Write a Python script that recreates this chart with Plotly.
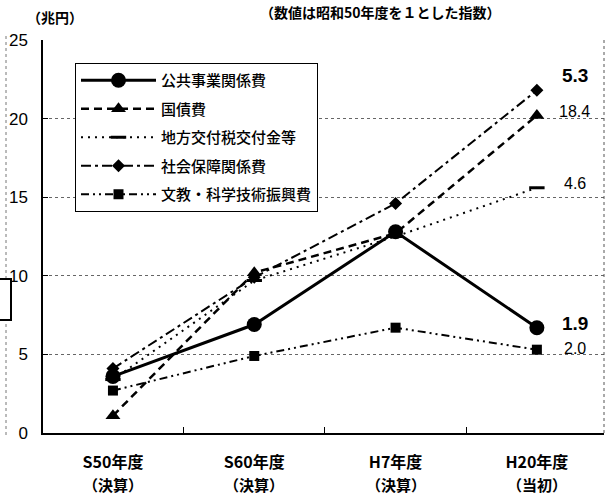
import plotly.graph_objects as go

# Fiscal-year categories (x positions 0..3)
years = ["S50年度", "S60年度", "H7年度", "H20年度"]
budget_kind = ["（決算）", "（決算）", "（決算）", "（当初）"]

# Expenditure by category, trillion yen
public_works = [3.6, 6.9, 12.8, 6.7]      # 公共事業関係費
debt_service = [1.1, 10.2, 12.7, 20.2]    # 国債費
local_tax_grants = [3.4, 9.7, 12.5, 15.6] # 地方交付税交付金等
social_security = [4.1, 9.9, 14.6, 21.8]  # 社会保障関係費
education_science = [2.7, 4.9, 6.7, 5.3]  # 文教・科学技術振興費

# Index for H20 relative to S50 (S50 = 1)
index_labels = ["1.9", "18.4", "4.6", "5.3", "2.0"]

JP = "Noto Sans CJK JP"
NUM = "Liberation Sans Narrow, Liberation Sans, Arial"

series = [
    dict(name="公共事業関係費", y=public_works, dash="solid", width=3,
         marker=dict(symbol="circle", size=15, color="black")),
    dict(name="国債費", y=debt_service, dash="8px,5px", width=2.5,
         marker=dict(symbol="triangle-up", size=13, color="black")),
    dict(name="地方交付税交付金等", y=local_tax_grants, dash="2px,5px", width=2,
         marker=dict(symbol="line-ew", size=11, color="black",
                     line=dict(width=3, color="black"))),
    dict(name="社会保障関係費", y=social_security, dash="10px,4px,3px,4px", width=2,
         marker=dict(symbol="diamond", size=10, color="black")),
    dict(name="文教・科学技術振興費", y=education_science, dash="8px,4px,2px,4px,2px,4px", width=2,
         marker=dict(symbol="square", size=10, color="black")),
]

fig = go.Figure()
for s in series:
    fig.add_trace(go.Scatter(
        x=list(range(len(years))), y=s["y"], name=s["name"],
        mode="lines+markers", legendgroup=s["name"],
        line=dict(color="black", width=s["width"], dash=s["dash"]),
        marker=s["marker"],
    ))

L, R, T, B, W, H = 43, 8, 40, 63, 612, 496
pw, ph = W - L - R, H - T - B


def py(pix):
    """Vertical pixel position (from top of page) to paper coordinate."""
    return (H - B - pix) / ph


# Index labels beside the H20 points
label_style = [
    (public_works, index_labels[0], 19, True, 4),
    (debt_service, index_labels[1], 16, False, 4),
    (local_tax_grants, index_labels[2], 16, False, 4),
    (social_security, index_labels[3], 19, True, 15),
    (education_science, index_labels[4], 16, False, 1),
]
annotations = []
for ys, txt, size, bold, dy in label_style:
    annotations.append(dict(
        x=3, y=ys[-1], xref="x", yref="y", xshift=38, yshift=dy,
        text=f"<b>{txt}</b>" if bold else txt, showarrow=False,
        font=dict(family=NUM, size=size, color="black"),
    ))

# second line of each category label
for i, kind in enumerate(budget_kind):
    annotations.append(dict(
        x=i, y=py(496), xref="x", yref="paper", xanchor="center", yanchor="bottom",
        text=kind, showarrow=False, borderpad=0,
        font=dict(family=JP, size=15, color="black", weight=600),
    ))

annotations += [
    dict(x=(55 - L) / pw, y=py(17), xref="paper", yref="paper", xanchor="center",
         yanchor="middle", text="（兆円）", showarrow=False,
         font=dict(family=JP, size=14, color="black", weight=600)),
    dict(x=(380 - L) / pw, y=py(12), xref="paper", yref="paper", xanchor="center",
         yanchor="middle", text="（数値は昭和50年度を１とした指数）",
         showarrow=False, font=dict(family=JP, size=14, color="black", weight=600)),
]

fig.update_layout(
    width=W, height=H,
    margin=dict(l=L, r=R, t=T, b=B),
    paper_bgcolor="white", plot_bgcolor="white",
    font=dict(family=JP, color="black"),
    showlegend=True,
    legend=dict(
        x=(75 - L) / pw, y=py(63), xanchor="left", yanchor="top",
        bordercolor="black", borderwidth=1, bgcolor="white",
        font=dict(family=JP, size=15, color="black", weight=500),
        itemwidth=75, tracegroupgap=6,
    ),
    annotations=annotations,
    xaxis=dict(
        range=[-0.495, 3.475], tickvals=list(range(len(years))), ticktext=years,
        ticks="", showgrid=False, zeroline=False,
        showline=True, linecolor="black", linewidth=1.5,
        tickfont=dict(family=JP, size=16, color="black", weight=600),
        ticklabelstandoff=14,
        minor=dict(tickvals=[0.5, 1.5, 2.5], ticks="inside", ticklen=6,
                   tickcolor="black", showgrid=False),
    ),
    yaxis=dict(
        range=[0, 25], tickvals=[0, 5, 10, 15, 20, 25],
        showgrid=True, gridcolor="#666", griddash="dot", gridwidth=1,
        zeroline=False, showline=True, linecolor="black", linewidth=1.5,
        ticks="inside", ticklen=5, tickcolor="black",
        tickfont=dict(family="Liberation Sans, Arial", size=17, color="black"),
        ticklabelstandoff=10,
    ),
    shapes=[
        # dotted right border of the plot area
        dict(type="line", xref="paper", yref="paper", x0=1, x1=1, y0=0, y1=1,
             line=dict(color="#555", width=1, dash="dot")),
        # dotted vertical rule and framed box at the left margin
        dict(type="line", xref="paper", yref="paper",
             x0=(6 - L) / pw, x1=(6 - L) / pw, y0=py(435), y1=py(35),
             line=dict(color="#777", width=1, dash="dot")),
        dict(type="rect", xref="paper", yref="paper",
             x0=(-3 - L) / pw, x1=(11 - L) / pw, y0=py(320), y1=py(279),
             line=dict(color="black", width=2), fillcolor="white"),
    ],
)

fig.write_html("out.html")
